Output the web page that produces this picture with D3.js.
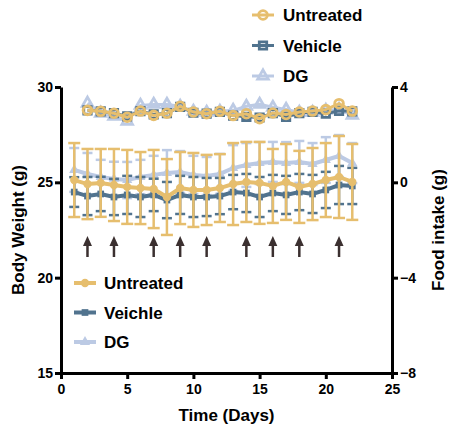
<!DOCTYPE html>
<html lang="en">
<head>
    <meta charset="UTF-8">
    <title>Body weight and food intake</title>
    <script src="https://d3js.org/d3.v7.min.js"></script>
    <style>
        body { margin: 0; background: #ffffff; }
        svg { display: block; font-family: "Liberation Sans", Arial, sans-serif; }
        .axis path, .axis line { stroke: #000; stroke-width: 3; }
        .axis text { font-size: 14px; font-weight: bold; fill: #000; }
        .title { font-size: 17px; font-weight: bold; fill: #000; }
        .legend text { font-size: 17px; font-weight: bold; fill: #000; }
    </style>
</head>
<body>
<div id="chart"></div>
<script>
    // days
    const bwDays = [1, 2, 3, 4, 5, 6, 7, 8, 9, 10, 11, 12, 13, 14, 15, 16, 17, 18, 19, 20, 21, 22];
    const foodDays = [2, 3, 4, 5, 6, 7, 8, 9, 10, 11, 12, 13, 14, 15, 16, 17, 18, 19, 20, 21, 22];
    const injectionDays = [2, 4, 7, 9, 11, 14, 16, 18, 21];

    // body weight (g), mean and SD
    const bwUntreated = [25.12, 24.91, 24.97, 24.86, 24.76, 24.70, 24.65, 24.23, 24.70, 24.60, 24.60, 24.70, 24.91, 25.02, 24.97, 24.81, 25.02, 24.76, 24.91, 25.12, 25.28, 25.02];
    const sdUntreated = [1.94, 1.84, 1.78, 1.89, 1.94, 1.89, 2.05, 1.99, 1.89, 1.94, 1.84, 1.78, 2.15, 2.10, 2.15, 1.94, 1.99, 1.89, 1.89, 1.94, 2.15, 1.99];
    const bwVehicle = [24.49, 24.28, 24.39, 24.23, 24.34, 24.23, 24.34, 24.07, 24.34, 24.23, 24.23, 24.28, 24.49, 24.44, 24.23, 24.44, 24.34, 24.49, 24.39, 24.60, 24.86, 24.81];
    const sdVehicle = [0.78, 1.0, 0.9, 0.95, 1.0, 1.05, 0.85, 0.95, 1.0, 1.05, 1.0, 0.95, 0.9, 1.0, 1.05, 0.95, 1.0, 0.95, 1.0, 0.95, 1.0, 0.95];
    const bwDG = [25.65, 25.44, 25.28, 25.18, 25.12, 25.28, 25.39, 25.49, 25.54, 25.39, 25.33, 25.44, 25.75, 25.91, 26.01, 26.07, 26.01, 26.07, 25.96, 26.17, 26.38, 26.01];
    const sdDG = [1.15, 1.1, 0.9, 0.9, 0.95, 0.9, 1.0, 1.2, 1.1, 1.0, 1.0, 1.05, 1.2, 1.15, 1.1, 1.05, 1.1, 1.1, 1.1, 1.2, 1.1, 1.05];

    // food intake (g)
    const foodUntreated = [3.02, 2.98, 2.90, 2.73, 2.99, 2.81, 2.90, 3.19, 2.95, 2.88, 2.98, 2.80, 2.88, 2.67, 2.91, 2.85, 2.95, 2.99, 3.05, 3.30, 2.99];
    const foodVehicle = [3.02, 2.98, 2.90, 2.77, 2.99, 2.85, 2.90, 3.17, 2.92, 2.88, 2.96, 2.80, 2.75, 2.72, 2.90, 2.75, 2.90, 2.96, 2.88, 3.00, 2.98];
    const foodDG = [3.32, 2.90, 2.77, 2.56, 3.23, 3.27, 3.27, 3.19, 2.98, 2.94, 2.98, 3.02, 3.19, 3.27, 3.15, 3.06, 2.94, 2.94, 3.02, 3.06, 2.81];

    const xTicks = [0, 5, 10, 15, 20, 25];
    const leftTicks = [15, 20, 25, 30];
    const rightTicks = [-8, -4, 0, 4];

    const gold = "#e6be6e", dark = "#51738e", light = "#bccae4", arrowCol = "#3b3030";

    const width = 450, height = 431;
    const margin = {left: 61, right: 58, top: 87, bottom: 58};

    const svg = d3.select("#chart").append("svg")
        .attr("width", width)
        .attr("height", height);

    const x = d3.scaleLinear().domain([0, 25]).range([margin.left, width - margin.right]);
    const yL = d3.scaleLinear().domain([15, 30]).range([height - margin.bottom, margin.top]);
    const yR = d3.scaleLinear().domain([-8, 4]).range([height - margin.bottom, margin.top]);

    const sym = {
        circle: d3.symbol().type(d3.symbolCircle),
        square: d3.symbol().type(d3.symbolSquare),
        triangle: d3.symbol().type(d3.symbolTriangle)
    };
    const foodSize = {circle: 60, square: 55, triangle: 48};

    // body weight series (drawn DG, vehicle, untreated)
    const bwSeries = [
        {name: "DG", mean: bwDG, sd: sdDG, color: light, shape: "triangle", cap: 10},
        {name: "Veichle", mean: bwVehicle, sd: sdVehicle, color: dark, shape: "square", cap: 10},
        {name: "Untreated", mean: bwUntreated, sd: sdUntreated, color: gold, shape: "circle", cap: 12}
    ];

    const line = d3.line().curve(d3.curveLinear);

    bwSeries.forEach(s => {
        const g = svg.append("g");
        const pts = bwDays.map((d, i) => ({x: x(d), m: yL(s.mean[i]), lo: yL(s.mean[i] - s.sd[i]), hi: yL(s.mean[i] + s.sd[i])}));
        g.selectAll(".eb").data(pts).enter().append("line")
            .attr("x1", d => d.x).attr("x2", d => d.x)
            .attr("y1", d => d.lo).attr("y2", d => d.hi)
            .attr("stroke", s.color).attr("stroke-width", 2.5);
        g.selectAll(".capHi").data(pts).enter().append("line")
            .attr("x1", d => d.x - s.cap / 2).attr("x2", d => d.x + s.cap / 2)
            .attr("y1", d => d.hi).attr("y2", d => d.hi)
            .attr("stroke", s.color).attr("stroke-width", 2.5);
        g.selectAll(".capLo").data(pts).enter().append("line")
            .attr("x1", d => d.x - s.cap / 2).attr("x2", d => d.x + s.cap / 2)
            .attr("y1", d => d.lo).attr("y2", d => d.lo)
            .attr("stroke", s.color).attr("stroke-width", 2.5);
        g.append("path")
            .attr("d", line(pts.map(p => [p.x, p.m])))
            .attr("fill", "none").attr("stroke", s.color).attr("stroke-width", 4);
        g.selectAll(".mk").data(pts).enter().append("path")
            .attr("d", sym[s.shape].size(s.shape === "circle" ? 55 : 45))
            .attr("transform", d => `translate(${d.x},${d.m})`)
            .attr("fill", s.color);
    });

    // food intake series
    const foodSeries = [
        {name: "DG", vals: foodDG, color: light, shape: "triangle"},
        {name: "Vehicle", vals: foodVehicle, color: dark, shape: "square"},
        {name: "Untreated", vals: foodUntreated, color: gold, shape: "circle"}
    ];

    foodSeries.forEach(s => {
        const g = svg.append("g");
        const pts = foodDays.map((d, i) => [x(d), yR(s.vals[i])]);
        g.append("path")
            .attr("d", line(pts))
            .attr("fill", "none").attr("stroke", s.color).attr("stroke-width", 3);
        g.selectAll(".mk").data(pts).enter().append("path")
            .attr("d", sym[s.shape].size(foodSize[s.shape]))
            .attr("transform", d => `translate(${d[0]},${d[1]})`)
            .attr("fill", "none").attr("stroke", s.color).attr("stroke-width", 2.8);
    });

    // injection arrows
    const arrows = svg.append("g");
    injectionDays.forEach(d => {
        const ax = x(d);
        arrows.append("line")
            .attr("x1", ax).attr("x2", ax).attr("y1", 244).attr("y2", 257)
            .attr("stroke", arrowCol).attr("stroke-width", 2.5);
        arrows.append("path")
            .attr("d", `M${ax},236 L${ax - 4.5},246 L${ax + 4.5},246 Z`)
            .attr("fill", arrowCol);
    });

    // axes
    svg.append("g").attr("class", "axis")
        .attr("transform", `translate(0,${height - margin.bottom})`)
        .call(d3.axisBottom(x).tickValues(xTicks).tickSize(6).tickSizeOuter(0).tickPadding(5));
    svg.append("g").attr("class", "axis")
        .attr("transform", `translate(${margin.left},0)`)
        .call(d3.axisLeft(yL).tickValues(leftTicks).tickSize(6).tickSizeOuter(0).tickPadding(2));
    svg.append("g").attr("class", "axis")
        .attr("transform", `translate(${width - margin.right},0)`)
        .call(d3.axisRight(yR).tickValues(rightTicks).tickSize(6).tickSizeOuter(0).tickPadding(2));

    // titles
    svg.append("text").attr("class", "title")
        .attr("x", (margin.left + width - margin.right) / 2).attr("y", 421)
        .attr("text-anchor", "middle").text("Time (Days)");
    svg.append("text").attr("class", "title")
        .attr("transform", `translate(24,${(margin.top + height - margin.bottom) / 2}) rotate(-90)`)
        .attr("text-anchor", "middle").text("Body Weight (g)");
    svg.append("text").attr("class", "title")
        .attr("transform", `translate(444,${(margin.top + height - margin.bottom) / 2}) rotate(-90)`)
        .attr("text-anchor", "middle").text("Food intake (g)");

    // top legend (food intake)
    const legTop = svg.append("g").attr("class", "legend");
    [...foodSeries].reverse().forEach((s, i) => {
        const ly = 15 + i * 30.5;
        legTop.append("line").attr("x1", 252).attr("x2", 274).attr("y1", ly).attr("y2", ly)
            .attr("stroke", s.color).attr("stroke-width", 3);
        legTop.append("path").attr("d", sym[s.shape].size(foodSize[s.shape]))
            .attr("transform", `translate(263,${ly})`)
            .attr("fill", "none").attr("stroke", s.color).attr("stroke-width", 2.8);
        legTop.append("text").attr("x", 283).attr("y", ly + 6).text(s.name);
    });

    // bottom legend (body weight)
    const legBot = svg.append("g").attr("class", "legend");
    [...bwSeries].reverse().forEach((s, i) => {
        const ly = 283 + i * 29.5;
        legBot.append("line").attr("x1", 74).attr("x2", 96).attr("y1", ly).attr("y2", ly)
            .attr("stroke", s.color).attr("stroke-width", 4);
        legBot.append("path").attr("d", sym[s.shape].size(s.shape === "circle" ? 55 : 45))
            .attr("transform", `translate(85,${ly})`)
            .attr("fill", s.color);
        legBot.append("text").attr("x", 104).attr("y", ly + 6).text(s.name);
    });
</script>
</body>
</html>
